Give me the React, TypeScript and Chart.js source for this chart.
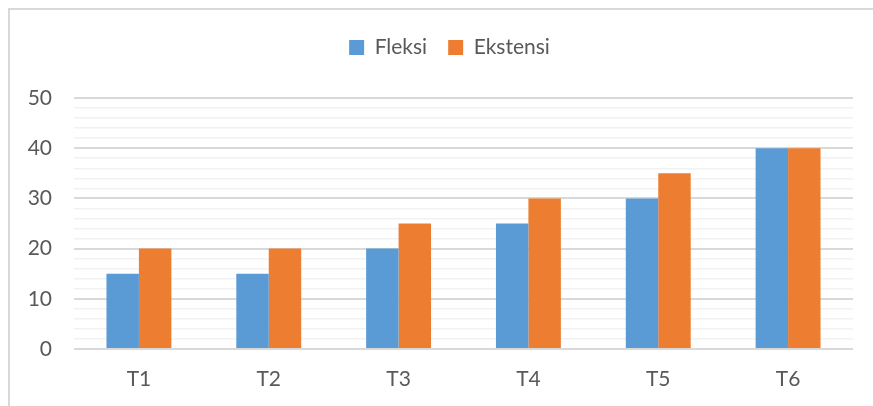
import React, { useEffect, useRef } from "react";
import { Chart, registerables } from "chart.js";

Chart.register(...registerables);

const categories = ["T1", "T2", "T3", "T4", "T5", "T6"];
const fleksi = [15, 15, 20, 25, 30, 40];
const ekstensi = [20, 20, 25, 30, 35, 40];
const seriesNames = ["Fleksi", "Ekstensi"];

const FONT = "Lato, 'Open Sans', sans-serif";
const TEXT = "#595959";

const legendTweak = {
  id: "legendTweak",
  beforeLayout(chart: any) {
    const lg = chart.legend;
    if (lg && !lg.__patched) {
      const orig = lg.fit;
      lg.fit = function (this: any) {
        orig.call(this);
        this.height += 30;
      };
      lg.__patched = true;
    }
  },
  afterLayout(chart: any) {
    const lg = chart.legend;
    if (lg) {
      lg.left += 23;
      lg.right += 23;
    }
  },
};

export default function App() {
  const ref = useRef<HTMLCanvasElement | null>(null);

  useEffect(() => {
    if (!ref.current) return;
    const chart = new Chart(ref.current, {
      type: "bar",
      data: {
        labels: categories,
        datasets: [
          { label: seriesNames[0], data: fleksi, backgroundColor: "#5B9BD5", borderWidth: 0 },
          { label: seriesNames[1], data: ekstensi, backgroundColor: "#ED7D31", borderWidth: 0 },
        ],
      },
      plugins: [legendTweak],
      options: {
        responsive: false,
        animation: false,
        layout: { padding: { left: 0, right: 20, top: 16, bottom: 0 } },
        datasets: { bar: { barPercentage: 1, categoryPercentage: 0.5 } },
        plugins: {
          tooltip: { enabled: false },
          legend: {
            position: "top",
            labels: {
              boxWidth: 15,
              boxHeight: 15,
              padding: 21,
              color: TEXT,
              font: { family: FONT, size: 21 },
            },
          },
        },
        scales: {
          x: {
            grid: { display: false },
            border: { display: false },
            ticks: { color: TEXT, font: { family: FONT, size: 21 }, padding: 10 },
            afterFit: (s: any) => {
              s.height = 57;
            },
          },
          y: {
            min: 0,
            max: 50,
            border: { display: false },
            grid: {
              drawTicks: false,
              color: (ctx: any) => (ctx.tick && ctx.tick.value % 10 === 0 ? "#d9d9d9" : "#f2f2f2"),
              lineWidth: (ctx: any) => (ctx.tick && ctx.tick.value % 10 === 0 ? 2 : 1.5),
            },
            ticks: {
              stepSize: 2,
              autoSkip: false,
              color: TEXT,
              font: { family: FONT, size: 21 },
              padding: 22,
              callback: (v: any) => (Number(v) % 10 === 0 ? String(v) : ""),
            },
            afterFit: (s: any) => {
              s.width = 74;
            },
          },
        },
      },
    });
    return () => chart.destroy();
  }, []);

  return (
    <div style={{ position: "fixed", left: 0, top: 0, width: 873, height: 406, overflow: "hidden", background: "#fff" }}>
      <div
        style={{
          position: "absolute",
          left: 8,
          top: 8,
          width: 900,
          height: 440,
          border: "2px solid #d9d9d9",
          boxSizing: "border-box",
        }}
      />
      <canvas ref={ref} width={873} height={406} style={{ position: "absolute", left: 0, top: 0 }} />
    </div>
  );
}
